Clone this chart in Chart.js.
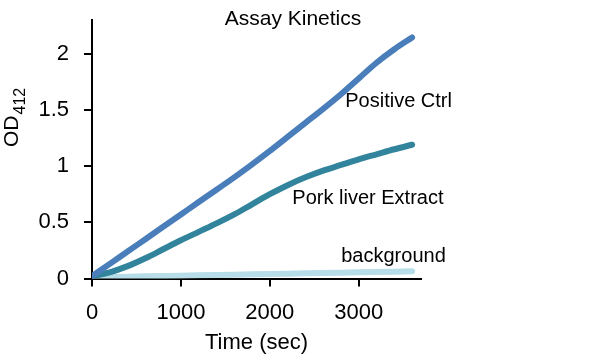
<!DOCTYPE html>
<html><head><meta charset="utf-8">
<script src="https://cdn.jsdelivr.net/npm/chart.js@4.4.0/dist/chart.umd.min.js"></script>
<style>html,body{margin:0;padding:0;background:#fff}#wrap{width:592px;height:358px}</style>
</head><body><div id="wrap"><canvas id="c" width="592" height="358"></canvas></div>
<script>
const timeSec = [0,200,400,600,800,1000,1200,1400,1600,1800,2000,2200,2400,2600,2800,3000,3200,3400,3600];
const positiveCtrl = [0.02,0.13,0.24,0.35,0.46,0.57,0.68,0.79,0.90,1.015,1.135,1.26,1.385,1.51,1.64,1.78,1.92,2.04,2.145];
const porkLiver = [0.02,0.055,0.11,0.18,0.26,0.34,0.415,0.49,0.57,0.66,0.75,0.83,0.90,0.96,1.01,1.06,1.105,1.15,1.19];
const background = [0.01,0.013,0.016,0.019,0.022,0.025,0.028,0.031,0.034,0.037,0.040,0.043,0.046,0.049,0.052,0.055,0.058,0.061,0.064];
const seriesNames = ['Positive Ctrl','Pork liver Extract','background'];
const xTicks = [0,1000,2000,3000];
const yTicks = [0,0.5,1,1.5,2];
const titleText = 'Assay Kinetics';
const xTitle = 'Time (sec)';
const yTitleMain = 'OD';
const yTitleSub = '412';

const FONT = "'Liberation Sans', Arial, sans-serif";
const colors = ['#4a7ebb','#31849b','#b7dde8'];
const labelAnchors = [[2848,1.575],[2253,0.715],[2803,0.195]];

function toXY(xs, ys){ return xs.map((x,i)=>({x:x,y:ys[i]})); }

const textPlugin = {
  id:'texts',
  afterDraw(chart){
    const ctx = chart.ctx, ca = chart.chartArea;
    const xs = chart.scales.x, ys = chart.scales.y;
    ctx.save();
    ctx.fillStyle = '#000';
    ctx.font = '21px ' + FONT;
    ctx.textAlign = 'center'; ctx.textBaseline = 'alphabetic';
    ctx.fillText(titleText, 293, 25);
    ctx.font = '22px ' + FONT;
    ctx.fillText(xTitle, (ca.left+ca.right)/2, 349);
    ctx.save();
    ctx.translate(18, 147);
    ctx.rotate(-Math.PI/2);
    ctx.textAlign = 'left';
    ctx.font = '21px ' + FONT;
    ctx.fillText(yTitleMain, 0, 0);
    const w = ctx.measureText(yTitleMain).width;
    ctx.font = '16px ' + FONT;
    ctx.fillText(yTitleSub, w + 1, 7);
    ctx.restore();
    ctx.font = '20px ' + FONT;
    ctx.textAlign = 'left'; ctx.textBaseline = 'middle';
    seriesNames.forEach((n,i)=>{
      ctx.fillText(n, xs.getPixelForValue(labelAnchors[i][0]), ys.getPixelForValue(labelAnchors[i][1]));
    });
    ctx.restore();
  }
};

Chart.defaults.font.family = FONT;
Chart.defaults.color = '#000';

new Chart(document.getElementById('c'), {
  type:'line',
  data:{
    datasets:[
      {label:seriesNames[0], data:toXY(timeSec, positiveCtrl), borderColor:colors[0]},
      {label:seriesNames[1], data:toXY(timeSec, porkLiver), borderColor:colors[1]},
      {label:seriesNames[2], data:toXY(timeSec, background), borderColor:colors[2]}
    ]
  },
  options:{
    responsive:false, animation:false, devicePixelRatio:1,
    layout:{padding:{left:0,right:171,top:20,bottom:0}},
    elements:{
      line:{borderWidth:6, cubicInterpolationMode:'monotone', borderCapStyle:'round', borderJoinStyle:'round', fill:false},
      point:{radius:0, hoverRadius:0}
    },
    plugins:{legend:{display:false}, title:{display:false}, tooltip:{enabled:false}},
    scales:{
      x:{
        type:'linear', min:0, max:3700,
        afterBuildTicks(s){ s.ticks = xTicks.map(v=>({value:v})); },
        afterFit(s){ s.height = 79.5; s.paddingLeft = 0; s.paddingRight = 0; },
        grid:{drawOnChartArea:false, drawTicks:true, tickLength:8, color:'#000', lineWidth:2},
        border:{color:'#000', width:2},
        ticks:{font:{size:22}, padding:13, maxRotation:0, callback:(v)=>String(v)}
      },
      y:{
        type:'linear', min:0, max:2.3,
        afterBuildTicks(s){ s.ticks = yTicks.map(v=>({value:v})); },
        afterFit(s){ s.width = 92; s.paddingTop = 0; s.paddingBottom = 0; },
        grid:{drawOnChartArea:false, drawTicks:true, tickLength:8, color:'#000', lineWidth:2},
        border:{color:'#000', width:2},
        ticks:{font:{size:22}, padding:15, callback:(v)=>String(v)}
      }
    }
  },
  plugins:[textPlugin]
});
</script></body></html>
